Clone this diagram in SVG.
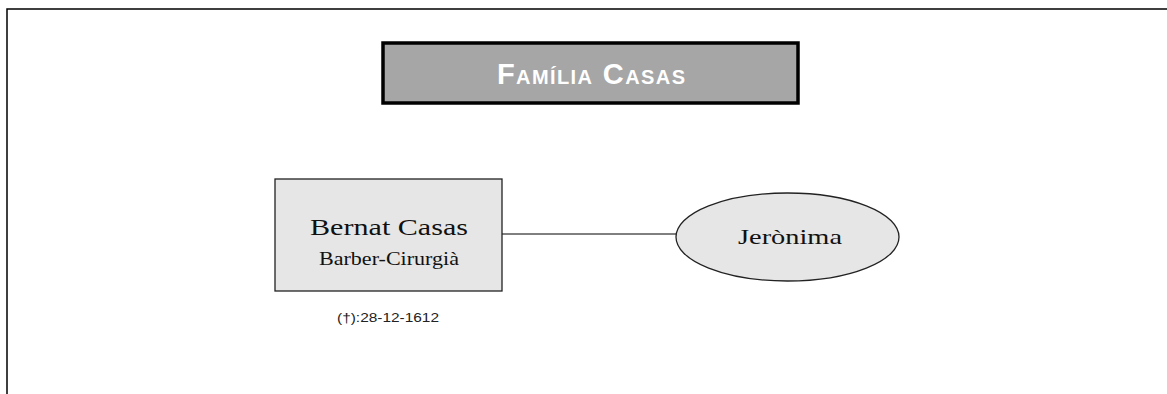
<svg xmlns="http://www.w3.org/2000/svg" width="1167" height="394" viewBox="0 0 1167 394">
<style>
.frame{fill:none;stroke:#000;stroke-width:1.5}
.hdr{fill:#a6a6a6;stroke:#000;stroke-width:3.5}
.person{fill:#e6e6e6;stroke:#222;stroke-width:1.3}
.conn{stroke:#000;stroke-width:1;fill:none}
.serif{font-family:"Liberation Serif","DejaVu Serif",serif;fill:#111;text-anchor:middle}
.sans{font-family:"Liberation Sans",Arial,sans-serif;fill:#222;text-anchor:middle}
.title{font-family:"Liberation Sans",Arial,sans-serif;font-weight:bold;fill:#fff;text-anchor:middle;font-variant:small-caps}
</style>
<rect width="1167" height="394" fill="#fff"/>
<path class="frame" d="M7 394 V9 H1167"/>
<g id="header">
<rect class="hdr" x="383" y="43" width="415" height="60"/>
<text class="title" x="591" y="84" font-size="29" textLength="188" lengthAdjust="spacing">Família Casas</text>
</g>
<g id="connectors">
<line class="conn" x1="502" y1="234" x2="676" y2="234"/>
</g>
<g id="bernat">
<rect class="person" x="275" y="179" width="227" height="112"/>
<text class="serif" x="389" y="235" font-size="24" textLength="158" lengthAdjust="spacingAndGlyphs">Bernat Casas</text>
<text class="serif" x="389" y="265" font-size="18" textLength="140" lengthAdjust="spacingAndGlyphs">Barber-Cirurgià</text>
<text class="sans" x="388" y="322" font-size="13" textLength="102" lengthAdjust="spacingAndGlyphs">(†):28-12-1612</text>
</g>
<g id="jeronima">
<ellipse class="person" cx="787.5" cy="237" rx="111.5" ry="44"/>
<text class="serif" x="790" y="244" font-size="21" textLength="104" lengthAdjust="spacingAndGlyphs">Jerònima</text>
</g>
</svg>
